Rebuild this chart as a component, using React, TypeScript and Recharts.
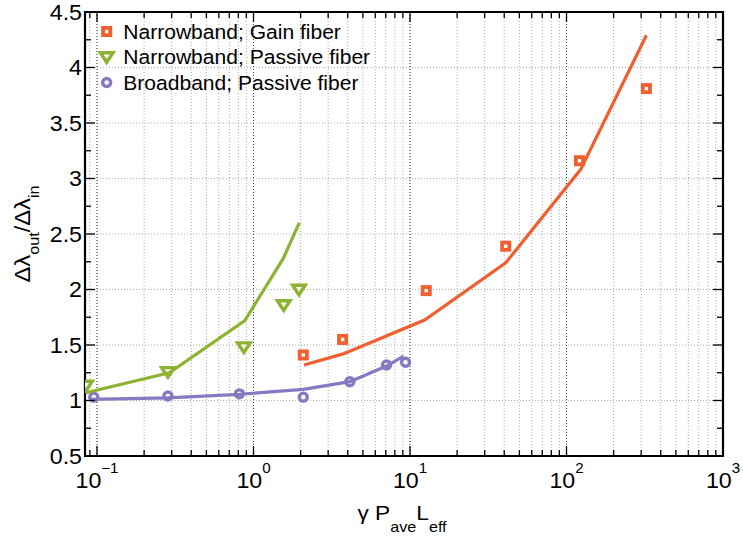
import { CartesianGrid, ReferenceArea, Scatter, ScatterChart, XAxis, YAxis } from "recharts"

// Narrowband pulses in gain fiber: measured points and simulated curve
const gainX = [2.08, 3.71, 12.7, 40.9, 121, 324]
const gainY = [1.41, 1.55, 1.99, 2.39, 3.16, 3.81]
const gainFitX = [2.1, 3.74, 12.4, 40.9, 123, 324]
const gainFitY = [1.32, 1.42, 1.725, 2.24, 3.08, 4.29]

// Narrowband pulses in passive fiber
const narrowX = [0.085, 0.284, 0.868, 1.56, 1.95]
const narrowY = [1.135, 1.257, 1.48, 1.86, 2.0]
const narrowFitX = [0.085, 0.29, 0.88, 1.55, 1.96]
const narrowFitY = [1.07, 1.25, 1.72, 2.28, 2.6]

// Broadband pulses in passive fiber
const broadX = [0.0954, 0.284, 0.813, 2.08, 4.13, 7.08, 9.36]
const broadY = [1.03, 1.04, 1.06, 1.03, 1.17, 1.32, 1.345]
const broadFitX = [0.09, 0.284, 0.813, 2.08, 4.13, 7.08, 9.1]
const broadFitY = [1.01, 1.024, 1.056, 1.1, 1.17, 1.31, 1.4]

const legendLabels = ["Narrowband; Gain fiber", "Narrowband; Passive fiber", "Broadband; Passive fiber"]

const decadeTicks = [0.1, 1, 10, 100, 1000]
const minorMultipliers = [2, 3, 4, 5, 6, 7, 8, 9]
const yTicks = [0.5, 0.75, 1, 1.25, 1.5, 1.75, 2, 2.25, 2.5, 2.75, 3, 3.25, 3.5, 3.75, 4, 4.25, 4.5]
const yMajorTicks = [0.5, 1, 1.5, 2, 2.5, 3, 3.5, 4, 4.5]

const X_DOMAIN: [number, number] = [0.0838, 1000]
const Y_DOMAIN: [number, number] = [0.5, 4.5]

const ORANGE = "#ef5f30"
const GREEN = "#8db333"
const PURPLE = "#8779c1"

// the chart is pinned to the page corner and covers the whole window
const W = 743
const H = 539
const TOP = 12
const BOTTOM = 456
const LEFT = 85
const RIGHT = 723
const STRETCH = 1.08
const FONT = "'Liberation Sans', Arial, Helvetica, sans-serif"

const toPoints = (xs: number[], ys: number[]) => xs.map((x, i) => ({ x, y: ys[i] }))

// every log-decade subdivision, used for tick marks and the dotted grid
const xTicks = [0.09, ...decadeTicks.slice(0, -1).flatMap((d) => [d, ...minorMultipliers.map((m) => d * m)]), 1000]

const SquareMarker = (p: any) => (
  <rect x={p.cx - 3.6} y={p.cy - 3.6} width={7.2} height={7.2} fill="#fff" stroke={ORANGE} strokeWidth={3.8} />
)
const TriangleMarker = (p: any) => (
  <path
    d={`M${p.cx - 6.3},${p.cy - 4.3} L${p.cx + 6.3},${p.cy - 4.3} L${p.cx},${p.cy + 5.3} Z`}
    fill="#fff"
    stroke={GREEN}
    strokeWidth={3.4}
  />
)
const CircleMarker = (p: any) => <circle cx={p.cx} cy={p.cy} r={4} fill="#fff" stroke={PURPLE} strokeWidth={3.4} />
const NoMarker = () => <g />

function XTick({ x, payload }: any) {
  const v = payload.value
  const major = decadeTicks.includes(v)
  const len = major ? 10 : 6
  const exp = Math.round(Math.log10(v))
  return (
    <g>
      <line x1={x} x2={x} y1={BOTTOM} y2={BOTTOM - len} stroke="#000" strokeWidth={1.3} />
      <line x1={x} x2={x} y1={TOP} y2={TOP + len} stroke="#000" strokeWidth={1.3} />
      {major && (
        <text
          transform={`translate(${x},488) scale(${STRETCH},1)`}
          textAnchor="middle"
          fontSize={21.5}
          fontFamily={FONT}
          fill="#000"
        >
          10
          <tspan dy={-15} fontSize={14}>
            {exp < 0 ? `\u2212${-exp}` : exp}
          </tspan>
        </text>
      )}
    </g>
  )
}

function YTick({ y, payload }: any) {
  const v = payload.value
  const major = yMajorTicks.includes(v)
  const len = major ? 10 : 6
  return (
    <g>
      <line x1={LEFT} x2={LEFT + len} y1={y} y2={y} stroke="#000" strokeWidth={1.3} />
      <line x1={RIGHT} x2={RIGHT - len} y1={y} y2={y} stroke="#000" strokeWidth={1.3} />
      {major && (
        <text
          transform={`translate(82,${y}) scale(${STRETCH},1)`}
          textAnchor="end"
          dy="0.36em"
          fontSize={21.5}
          fontFamily={FONT}
          fill="#000"
        >
          {v}
        </text>
      )}
    </g>
  )
}

const XTitle = () => (
  <text
    transform={`translate(${(LEFT + RIGHT) / 2 - 2},520) scale(${STRETCH},1)`}
    textAnchor="middle"
    fontSize={21}
    fontFamily={FONT}
    fill="#000"
  >
    γ P
    <tspan dy={12} fontSize={15}>ave</tspan>
    <tspan dy={-12} fontSize={21}>L</tspan>
    <tspan dy={12} fontSize={15}>eff</tspan>
  </text>
)

const YTitle = () => (
  <text
    transform={`translate(30,${(TOP + BOTTOM) / 2}) rotate(-90) scale(${STRETCH},1)`}
    textAnchor="middle"
    fontSize={22}
    fontFamily={FONT}
    fill="#000"
  >
    Δλ
    <tspan dy={9} fontSize={15}>out</tspan>
    <tspan dy={-9} fontSize={22}>/Δλ</tspan>
    <tspan dy={9} fontSize={15}>in</tspan>
  </text>
)

function ChartLegend() {
  const rows = [
    { label: legendLabels[0], marker: <SquareMarker cx={106.7} cy={31.5} /> },
    { label: legendLabels[1], marker: <TriangleMarker cx={106.7} cy={57} /> },
    { label: legendLabels[2], marker: <CircleMarker cx={106.7} cy={82.5} /> },
  ]
  return (
    <svg width={W} height={H} style={{ position: "absolute", left: 0, top: 0, pointerEvents: "none" }}>
      {rows.map((r, i) => (
        <g key={r.label}>
          {r.marker}
          <text
            transform={`translate(123.3,${38.5 + i * 25.5}) scale(${STRETCH},1)`}
            fontSize={19.5}
            fontFamily={FONT}
            fill="#000"
          >
            {r.label}
          </text>
        </g>
      ))}
    </svg>
  )
}

export default function App() {
  return (
    <div style={{ position: "absolute", left: 0, top: 0, width: W, height: H, fontFamily: FONT }}>
      <ScatterChart width={W} height={H} margin={{ top: TOP, right: W - RIGHT, bottom: 0, left: 0 }}>
        <CartesianGrid
          horizontalValues={yMajorTicks}
          verticalValues={xTicks}
          stroke="#aaa"
          strokeDasharray="1 2"
        />
        <CartesianGrid horizontal={false} verticalValues={decadeTicks} stroke="#444" strokeDasharray="1 2" />
        <XAxis
          dataKey="x"
          type="number"
          scale="log"
          domain={X_DOMAIN}
          allowDataOverflow
          ticks={xTicks}
          interval={0}
          tick={<XTick />}
          tickLine={false}
          axisLine={false}
          height={H - BOTTOM}
          label={() => <XTitle />}
        />
        <YAxis
          dataKey="y"
          type="number"
          domain={Y_DOMAIN}
          allowDataOverflow
          ticks={yTicks}
          interval={0}
          tick={<YTick />}
          tickLine={false}
          axisLine={false}
          width={LEFT}
          label={() => <YTitle />}
        />
        <ReferenceArea
          x1={X_DOMAIN[0]}
          x2={X_DOMAIN[1]}
          y1={Y_DOMAIN[0]}
          y2={Y_DOMAIN[1]}
          fill="none"
          stroke="#000"
          strokeWidth={2.2}
          ifOverflow="visible"
        />
        <Scatter data={toPoints(gainX, gainY)} fill={ORANGE} shape={SquareMarker} isAnimationActive={false} />
        <Scatter data={toPoints(narrowX, narrowY)} fill={GREEN} shape={TriangleMarker} isAnimationActive={false} />
        <Scatter data={toPoints(broadX, broadY)} fill={PURPLE} shape={CircleMarker} isAnimationActive={false} />
        <Scatter
          data={toPoints(gainFitX, gainFitY)}
          line={{ stroke: ORANGE, strokeWidth: 3.2 }}
          shape={NoMarker}
          isAnimationActive={false}
        />
        <Scatter
          data={toPoints(narrowFitX, narrowFitY)}
          line={{ stroke: GREEN, strokeWidth: 3.2 }}
          shape={NoMarker}
          isAnimationActive={false}
        />
        <Scatter
          data={toPoints(broadFitX, broadFitY)}
          line={{ stroke: PURPLE, strokeWidth: 3.2 }}
          shape={NoMarker}
          isAnimationActive={false}
        />
      </ScatterChart>
      <ChartLegend />
    </div>
  )
}
